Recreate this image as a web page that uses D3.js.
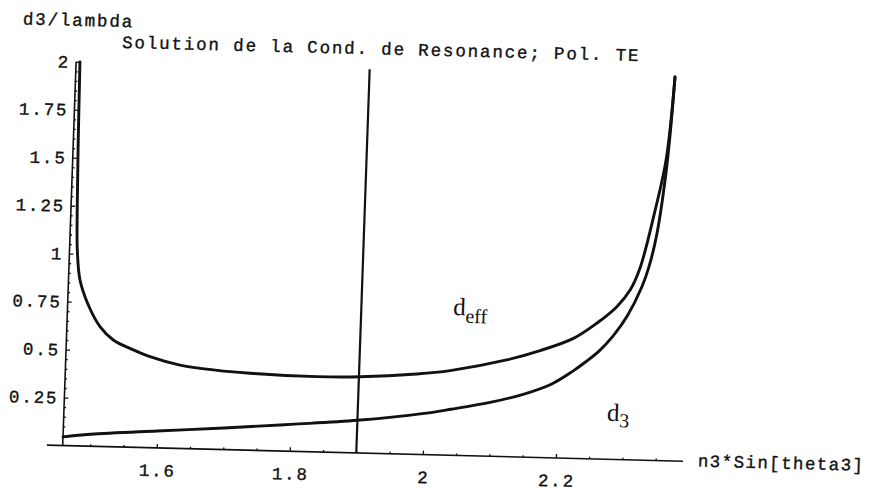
<!DOCTYPE html>
<html>
<head>
<meta charset="utf-8">
<script src="https://cdn.jsdelivr.net/npm/d3@7"></script>
<style>
  html, body { margin: 0; padding: 0; background: #fff; }
  svg { display: block; }
</style>
</head>
<body>
<script>
// Resonance condition solution, TE polarisation: d3/lambda vs n3*sin(theta3)

// axes origin and extents
const xOrigin = 1.4587;
const xAxisExtent = [1.435, 2.391];
const yAxisExtent = [0, 2];

// ticks
const xTicks = [1.6, 1.8, 2, 2.2];
const xTickLabels = ["1.6", "1.8", "2", "2.2"];
const xMinorTicks = [1.5, 1.55, 1.65, 1.7, 1.75, 1.85, 1.9, 1.95, 2.05, 2.1, 2.15, 2.25, 2.3, 2.35];
const yTicks = [0.25, 0.5, 0.75, 1, 1.25, 1.5, 1.75, 2];
const yTickLabels = ["0.25", "0.5", "0.75", "1", "1.25", "1.5", "1.75", "2"];
const yMinorTicks = [0.05, 0.1, 0.15, 0.2, 0.3, 0.35, 0.4, 0.45, 0.55, 0.6, 0.65, 0.7, 0.8, 0.85, 0.9, 0.95,
  1.05, 1.1, 1.15, 1.2, 1.3, 1.35, 1.4, 1.45, 1.55, 1.6, 1.65, 1.7, 1.8, 1.85, 1.9, 1.95];

// effective thickness d_eff
const dEffX = [1.4645, 1.466, 1.468, 1.4704, 1.476, 1.4898, 1.5085, 1.5292, 1.5599, 1.5851, 1.6307,
  1.6609, 1.7363, 1.8366, 1.9017, 1.9868, 2.0366, 2.121, 2.1707, 2.2202, 2.2544, 2.2837, 2.3028,
  2.3165, 2.3362, 2.350, 2.359];
const dEffY = [2.0, 1.6, 1.25, 1.02, 0.864, 0.735, 0.624, 0.556, 0.507, 0.474, 0.434,
  0.420, 0.401, 0.392, 0.397, 0.419, 0.441, 0.504, 0.557, 0.625, 0.707, 0.796, 0.884,
  1.0, 1.304, 1.567, 2.0];

// layer thickness d_3
const d3X = [1.4587, 1.50, 1.60, 1.70, 1.80, 1.90, 2.00, 2.04, 2.10, 2.15, 2.19, 2.22, 2.24, 2.26,
  2.28, 2.30, 2.32, 2.33, 2.34, 2.35, 2.355, 2.359];
const d3Y = [0.045, 0.062, 0.088, 0.112, 0.140, 0.170, 0.215, 0.240, 0.282, 0.330, 0.385, 0.452, 0.505, 0.565,
  0.645, 0.75, 0.90, 1.01, 1.18, 1.48, 1.72, 2.0];

// vertical marker
const markerX = 1.9;
const markerY = [0, 2];

const W = 872, H = 491;
const svg = d3.select("body").append("svg").attr("width", W).attr("height", H);
svg.append("rect").attr("width", W).attr("height", H).attr("fill", "#fff");

// the sheet sits slightly skewed on the page
const alpha = 1.45 * Math.PI / 180, beta = 2.0 * Math.PI / 180;
const m = [Math.cos(alpha), Math.sin(alpha), -Math.sin(beta), Math.cos(beta)];
const g = svg.append("g")
  .attr("transform", `translate(62.7,445.5) matrix(${m[0]},${m[1]},${m[2]},${m[3]},0,0)`);

const x = d3.scaleLinear().domain([xOrigin, 2.2]).range([0, 493.3]);
const y = d3.scaleLinear().domain([0, 2]).range([0, -384]);

const ink = "#111";
const mono = "'Liberation Mono', 'DejaVu Sans Mono', monospace";
const monoSize = 17.5, monoSpacing = 1.85;

// slightly heavier strokes for the typewriter-style text
function heavy(sel) {
  return sel.attr("stroke", ink).attr("stroke-width", 0.35).attr("paint-order", "stroke");
}

// axis lines
g.append("line")
  .attr("x1", x(xAxisExtent[0])).attr("x2", x(xAxisExtent[1]))
  .attr("y1", y(0)).attr("y2", y(0))
  .attr("stroke", ink).attr("stroke-width", 1.6);
g.append("line")
  .attr("x1", x(xOrigin)).attr("x2", x(xOrigin))
  .attr("y1", y(yAxisExtent[0])).attr("y2", y(yAxisExtent[1]))
  .attr("stroke", ink).attr("stroke-width", 1.6);

function styleAxis(sel) {
  sel.select(".domain").remove();
  sel.selectAll(".tick line").attr("stroke", ink).attr("stroke-width", 1.3);
  heavy(sel.selectAll(".tick text").attr("fill", ink).attr("font-family", mono)
    .attr("font-size", monoSize).attr("letter-spacing", monoSpacing));
}

// x axis ticks (pointing into the plot)
const gx = g.append("g").call(
  d3.axisBottom(x).tickValues(xTicks).tickSizeInner(-4).tickSizeOuter(0).tickPadding(16)
    .tickFormat((d, i) => xTickLabels[i]));
styleAxis(gx);
gx.selectAll(".tick text").attr("dx", monoSpacing / 2);
const gxm = g.append("g").call(
  d3.axisBottom(x).tickValues(xMinorTicks).tickSizeInner(-2).tickSizeOuter(0).tickFormat(""));
styleAxis(gxm);

// y axis ticks
const gy = g.append("g").attr("transform", `translate(${x(xOrigin)},0)`).call(
  d3.axisLeft(y).tickValues(yTicks).tickSizeInner(-4).tickSizeOuter(0).tickPadding(6)
    .tickFormat((d, i) => yTickLabels[i]));
styleAxis(gy);
const gym = g.append("g").attr("transform", `translate(${x(xOrigin)},0)`).call(
  d3.axisLeft(y).tickValues(yMinorTicks).tickSizeInner(-2).tickSizeOuter(0).tickFormat(""));
styleAxis(gym);

// vertical marker line
g.append("line")
  .attr("x1", x(markerX)).attr("x2", x(markerX))
  .attr("y1", y(markerY[0])).attr("y2", y(markerY[1]))
  .attr("stroke", ink).attr("stroke-width", 2.2);

// curves
const line = d3.line().x(d => x(d[0])).y(d => y(d[1])).curve(d3.curveCatmullRom.alpha(0.5));
g.append("path").datum(dEffX.map((v, i) => [v, dEffY[i]]))
  .attr("d", line).attr("fill", "none").attr("stroke", ink)
  .attr("stroke-width", 2.9).attr("stroke-linejoin", "round").attr("stroke-linecap", "round");
g.append("path").datum(d3X.map((v, i) => [v, d3Y[i]]))
  .attr("d", line).attr("fill", "none").attr("stroke", ink)
  .attr("stroke-width", 2.9).attr("stroke-linejoin", "round").attr("stroke-linecap", "round");

// curve labels
const serif = "'Liberation Serif', 'DejaVu Serif', serif";
const tEff = g.append("text").attr("x", x(2.038)).attr("y", y(0.731))
  .attr("font-family", serif).attr("font-size", 25).attr("fill", ink);
tEff.append("tspan").text("d");
tEff.append("tspan").attr("dy", 7.5).attr("font-size", 20).text("eff");

const t3 = g.append("text").attr("x", x(2.2746)).attr("y", y(0.2))
  .attr("font-family", serif).attr("font-size", 25).attr("fill", ink);
t3.append("tspan").text("d");
t3.append("tspan").attr("dy", 6).attr("font-size", 20).text("3");

// title and axis labels
heavy(g.append("text").attr("x", 45.4).attr("y", -399)
  .attr("font-family", mono).attr("font-size", monoSize).attr("letter-spacing", monoSpacing)
  .attr("fill", ink)
  .text("Solution de la Cond. de Resonance; Pol. TE"));
heavy(g.append("text").attr("x", x(xOrigin) + monoSpacing / 2).attr("y", -420).attr("text-anchor", "middle")
  .attr("font-family", mono).attr("font-size", monoSize).attr("letter-spacing", monoSpacing)
  .attr("fill", ink)
  .text("d3/lambda"));
heavy(g.append("text").attr("x", x(xAxisExtent[1]) + 15).attr("y", 5)
  .attr("font-family", mono).attr("font-size", monoSize).attr("letter-spacing", 1.4)
  .attr("fill", ink)
  .text("n3*Sin[theta3]"));
</script>
</body>
</html>
